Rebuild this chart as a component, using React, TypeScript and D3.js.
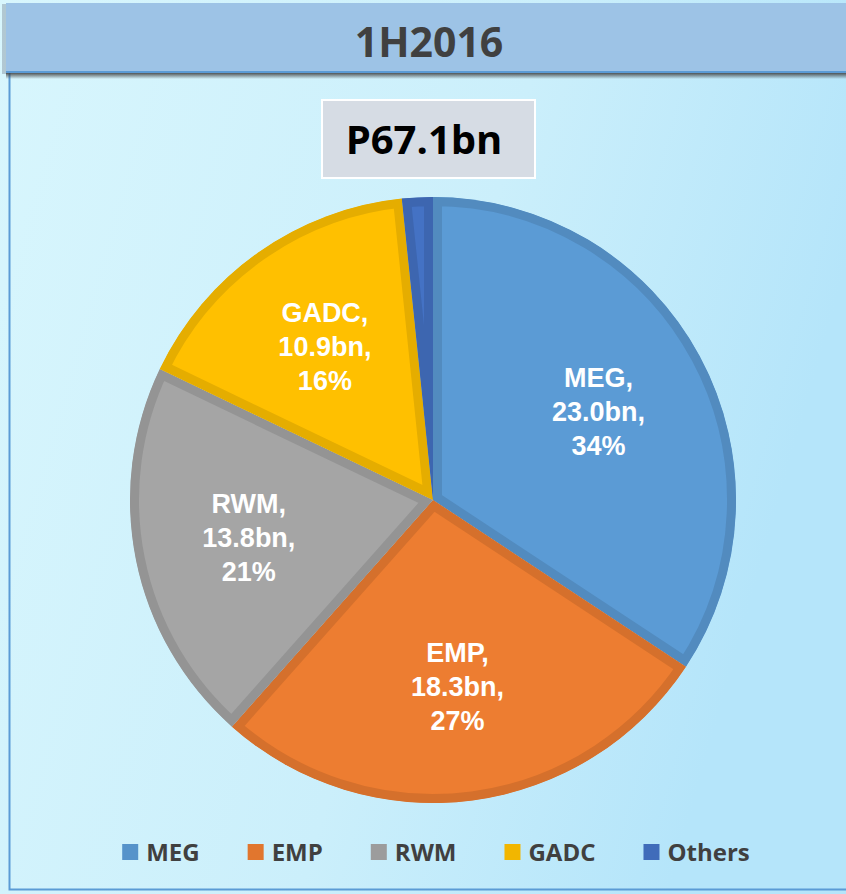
import React, { useEffect, useRef } from 'react';
import * as d3 from 'd3';

const categories = ['MEG', 'EMP', 'RWM', 'GADC', 'Others'];
const values = [23.0, 18.3, 13.8, 10.9, 1.1];
const percents = ['34%', '27%', '21%', '16%', ''];
const colors = ['#5B9BD5', '#ED7D31', '#A5A5A5', '#FFC000', '#4472C4'];
const title = '1H2016';
const total = 'P67.1bn';

const W = 846;
const H = 894;

const App: React.FC = () => {
  const svgRef = useRef<SVGSVGElement>(null);

  useEffect(() => {
    if (!svgRef.current) return;
    const svg = d3.select(svgRef.current);
    svg.selectAll('*').remove();

    const defs = svg.append('defs');
    const bg = defs.append('linearGradient').attr('id', 'bg')
      .attr('x1', 0).attr('y1', 0).attr('x2', 1).attr('y2', 0.3);
    bg.append('stop').attr('offset', '0%').attr('stop-color', '#D8F6FD');
    bg.append('stop').attr('offset', '60%').attr('stop-color', '#CBEFFB');
    bg.append('stop').attr('offset', '100%').attr('stop-color', '#B5E5FA');

    const shadow = defs.append('linearGradient').attr('id', 'shadow')
      .attr('x1', 0).attr('y1', 0).attr('x2', 0).attr('y2', 1);
    shadow.append('stop').attr('offset', '0%').attr('stop-color', '#3a3a3a').attr('stop-opacity', 0.85);
    shadow.append('stop').attr('offset', '100%').attr('stop-color', '#3a3a3a').attr('stop-opacity', 0);

    svg.append('rect').attr('width', W).attr('height', H).attr('fill', 'url(#bg)');

    // frame
    svg.append('path')
      .attr('d', `M9.5,72 V889.5 H${W}`)
      .attr('fill', 'none').attr('stroke', '#5B9BD5').attr('stroke-width', 2);

    // header bar
    svg.append('rect').attr('x', 2).attr('y', 4).attr('width', 6).attr('height', 70)
      .attr('fill', '#8a9aa8').attr('opacity', 0.5);
    svg.append('rect').attr('x', 6).attr('y', 73).attr('width', W).attr('height', 6)
      .attr('fill', 'url(#shadow)');
    svg.append('rect').attr('x', 6).attr('y', 3).attr('width', W).attr('height', 70)
      .attr('fill', '#9DC3E6');
    svg.append('line').attr('x1', 6).attr('x2', W).attr('y1', 72).attr('y2', 72)
      .attr('stroke', '#5B9BD5').attr('stroke-width', 2);
    svg.append('text').attr('x', 429).attr('y', 57)
      .attr('text-anchor', 'middle')
      .style('font-family', '"Open Sans", sans-serif').style('font-weight', 700)
      .style('font-size', '41px').attr('fill', '#404040')
      .text(title);

    // total box
    svg.append('rect').attr('x', 322).attr('y', 100).attr('width', 213).attr('height', 78)
      .attr('fill', '#D6DCE4').attr('stroke', '#FFFFFF').attr('stroke-width', 2);
    svg.append('text').attr('x', 424).attr('y', 154)
      .attr('text-anchor', 'middle')
      .style('font-family', '"Open Sans", sans-serif').style('font-weight', 700)
      .style('font-size', '40px').attr('fill', '#000000')
      .text(total);

    // pie
    const cx = 433;
    const cy = 500;
    const r = 303;
    const pie = d3.pie<number>().sort(null).value(d => d);
    const arcs = pie(values);
    const arc = d3.arc<d3.PieArcDatum<number>>().innerRadius(0).outerRadius(r);
    const labelArc = d3.arc<d3.PieArcDatum<number>>().innerRadius(r * 0.62).outerRadius(r * 0.62);

    const g = svg.append('g').attr('transform', `translate(${cx},${cy})`);

    arcs.forEach((a, i) => {
      const id = `clip${i}`;
      defs.append('clipPath').attr('id', id)
        .append('path').attr('d', arc(a) as string);
      const border = d3.color(colors[i])!.darker(0.3).formatHex();
      g.append('path')
        .attr('d', arc(a) as string)
        .attr('fill', colors[i])
        .attr('stroke', border)
        .attr('stroke-width', 18)
        .attr('stroke-linejoin', 'miter')
        .attr('clip-path', `url(#${id})`);
    });

    arcs.forEach((a, i) => {
      if (!percents[i]) return;
      const [lx, ly] = labelArc.centroid(a);
      const lines = [`${categories[i]},`, `${values[i].toFixed(1)}bn,`, percents[i]];
      const t = g.append('text')
        .attr('text-anchor', 'middle')
        .style('font-family', '"Liberation Sans", Arial, sans-serif')
        .style('font-weight', 700)
        .style('font-size', '27px')
        .attr('fill', '#FFFFFF');
      lines.forEach((s, k) => {
        t.append('tspan').attr('x', lx).attr('y', ly + (k - 1) * 34 + 10).text(s);
      });
    });

    // legend
    const legend = svg.append('g');
    const sq = 16;
    const gapText = 8;
    const gapItem = 48;
    let x = 0;
    categories.forEach((c, i) => {
      const ig = legend.append('g').attr('transform', `translate(${x},0)`);
      ig.append('rect').attr('x', 0).attr('y', -sq / 2).attr('width', sq).attr('height', sq)
        .attr('fill', d3.color(colors[i])!.darker(0.15).formatHex());
      const tx = ig.append('text').attr('x', sq + gapText).attr('y', 9)
        .style('font-family', '"Open Sans", sans-serif').style('font-weight', 700)
        .style('font-size', '24px').attr('fill', '#404040')
        .text(c);
      const w = sq + gapText + (tx.node() as SVGTextElement).getComputedTextLength();
      x += w + gapItem;
    });
    const totalW = x - gapItem;
    legend.attr('transform', `translate(${436 - totalW / 2},852)`);
  }, []);

  return (
    <svg
      ref={svgRef}
      width={W}
      height={H}
      style={{ display: 'block', position: 'absolute', left: 0, top: 0 }}
    />
  );
};

export default App;
